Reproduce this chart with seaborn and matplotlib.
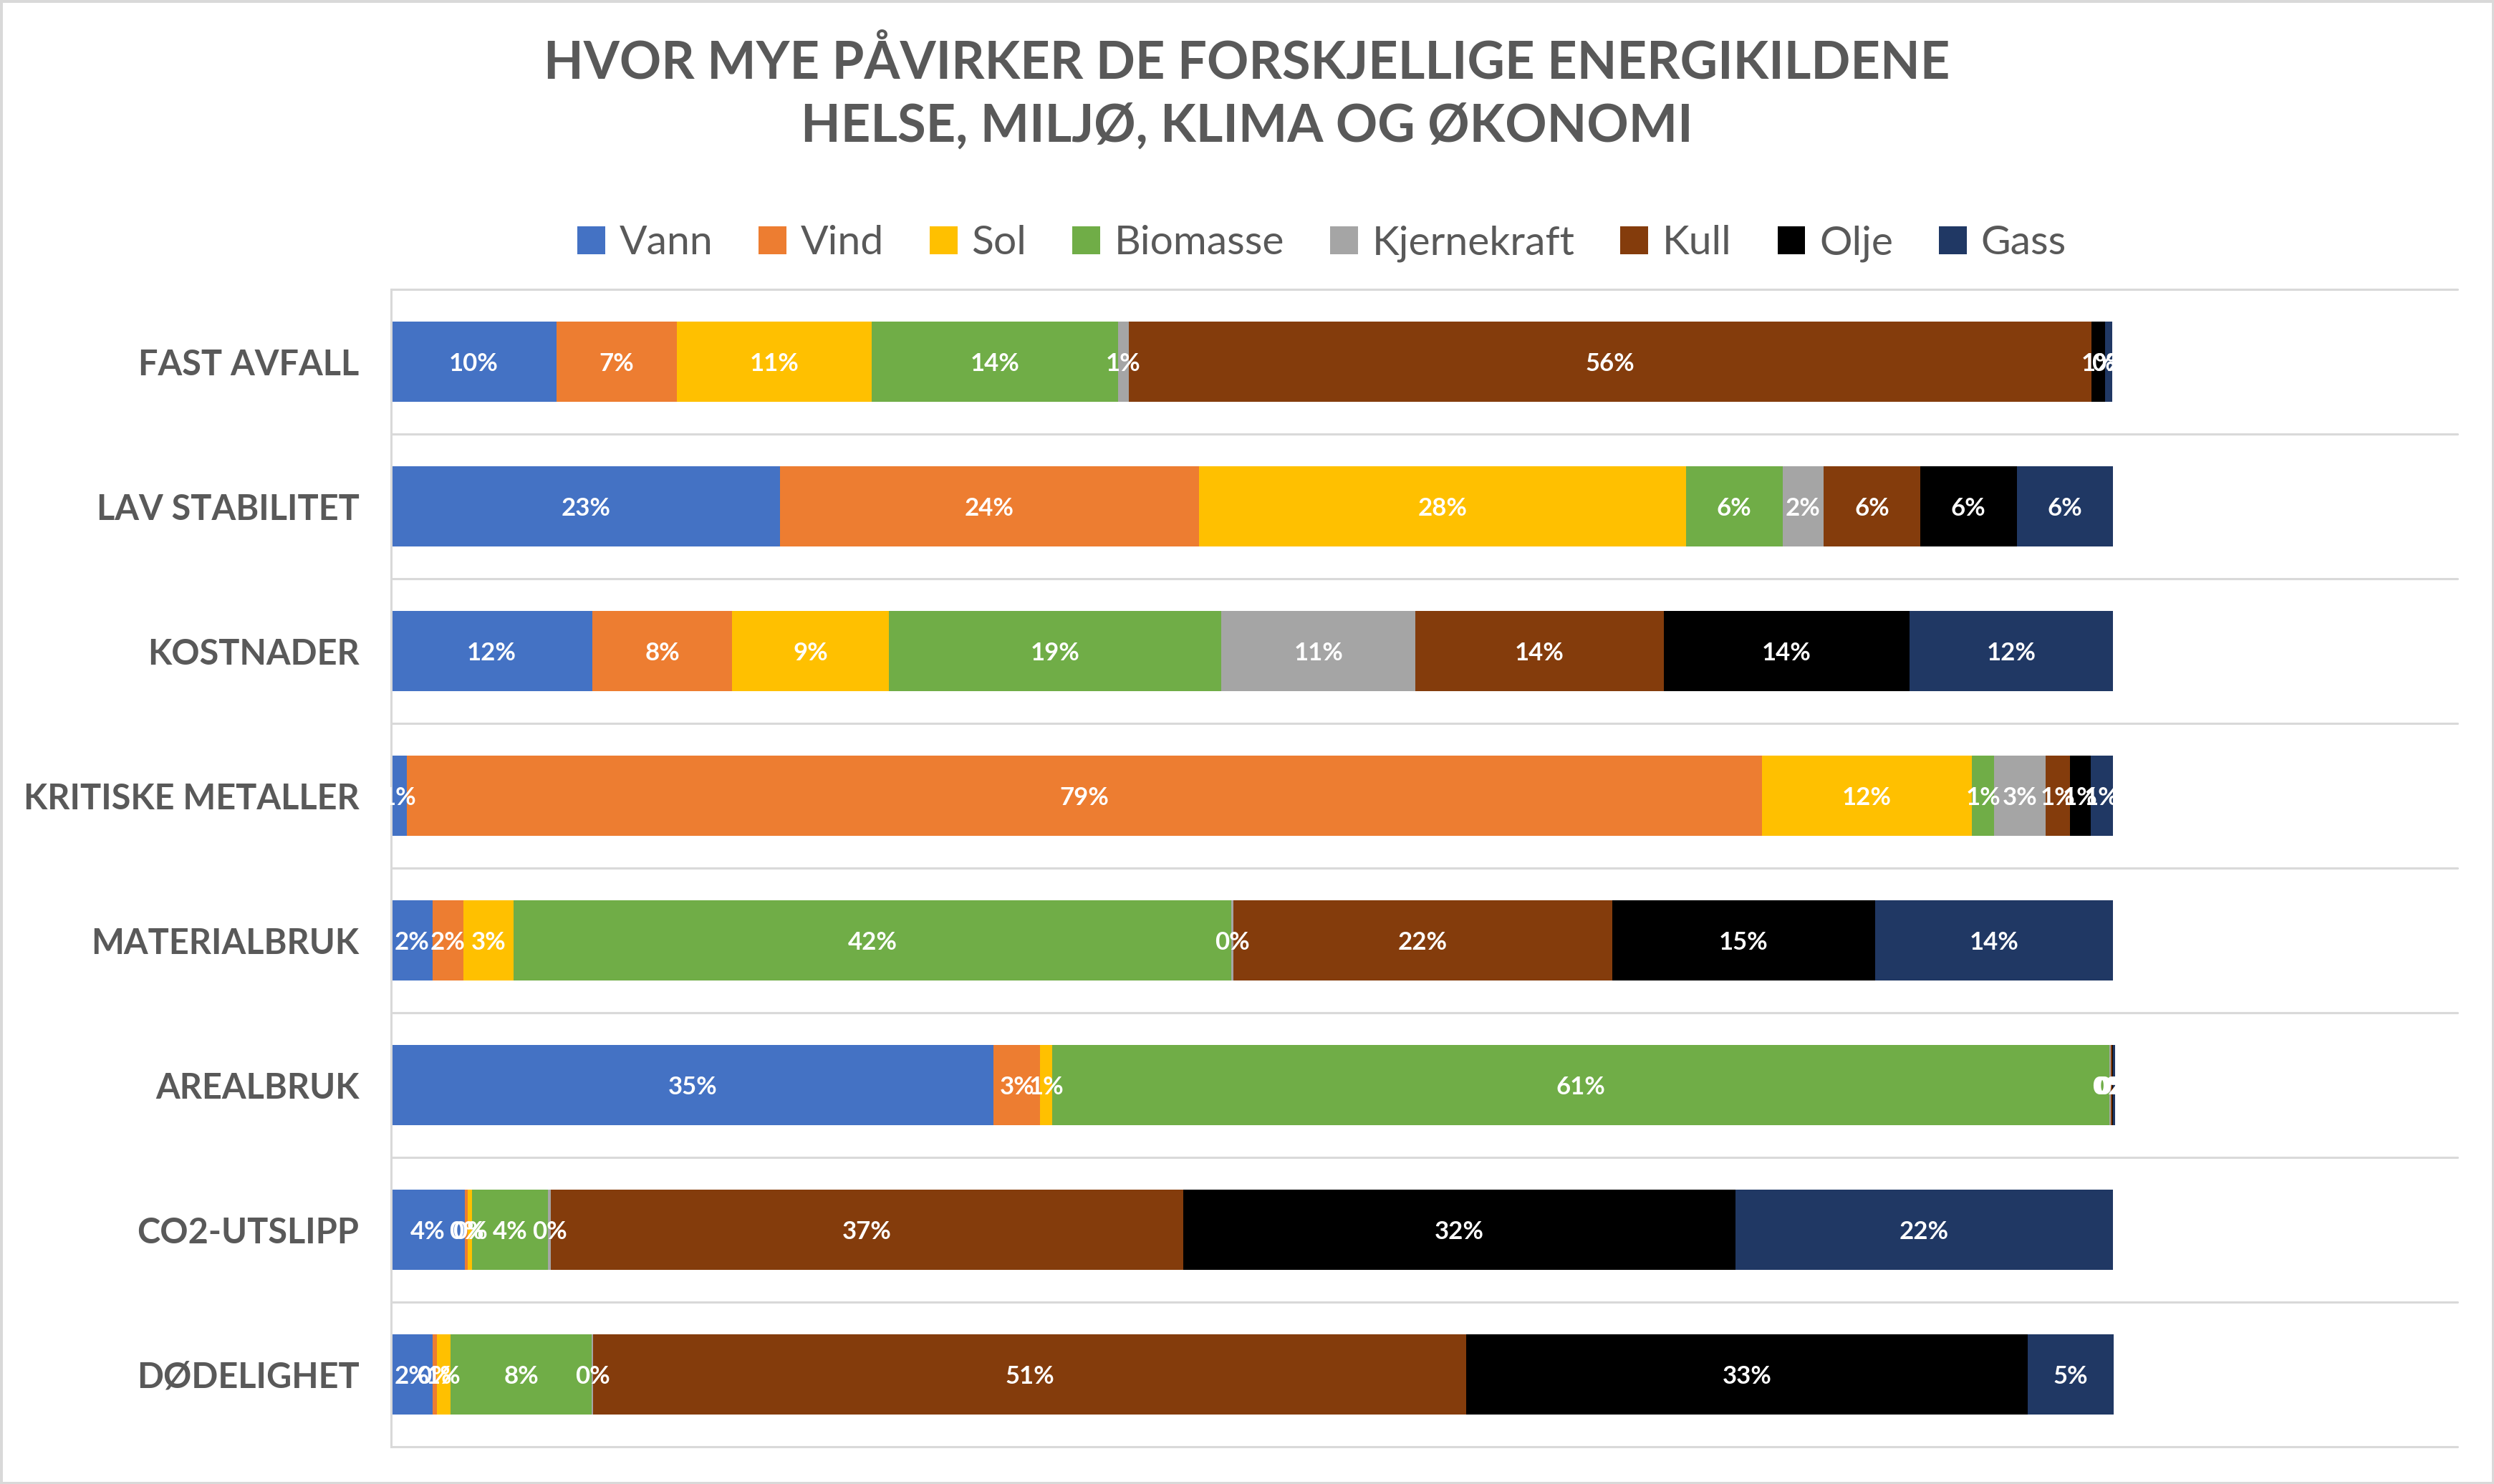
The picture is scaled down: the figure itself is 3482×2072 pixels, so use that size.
import numpy as np
import matplotlib
matplotlib.use("Agg")
import matplotlib.pyplot as plt
from matplotlib.patches import Patch
import seaborn as sns

# Data (share in % per criterion)
categories = ["FAST AVFALL", "LAV STABILITET", "KOSTNADER", "KRITISKE METALLER",
              "MATERIALBRUK", "AREALBRUK", "CO2-UTSLIPP", "DØDELIGHET"]
sources = ["Vann", "Vind", "Sol", "Biomasse", "Kjernekraft", "Kull", "Olje", "Gass"]

vann = [9.6, 22.6, 11.7, 0.9, 2.4, 35.0, 4.3, 2.4]
vind = [7.0, 24.3, 8.1, 78.7, 1.8, 2.7, 0.17, 0.25]
sol = [11.3, 28.3, 9.1, 12.2, 2.9, 0.7, 0.25, 0.8]
biomasse = [14.3, 5.6, 19.3, 1.3, 41.7, 61.4, 4.4, 8.2]
kjernekraft = [0.65, 2.4, 11.3, 3.0, 0.1, 0.05, 0.17, 0.1]
kull = [55.9, 5.6, 14.4, 1.4, 22.0, 0.1, 36.7, 50.7]
olje = [0.8, 5.6, 14.3, 1.2, 15.3, 0.05, 32.1, 32.6]
gass = [0.4, 5.6, 11.8, 1.3, 13.8, 0.1, 21.9, 5.0]

series = [vann, vind, sol, biomasse, kjernekraft, kull, olje, gass]
colors = ["#4472C4", "#ED7D31", "#FFC000", "#70AD47", "#A5A5A5", "#843C0C", "#000000", "#203864"]

grey_txt = "#595959"
grid_col = "#D9D9D9"

sns.set_theme(style="white")
plt.rcParams["font.family"] = ["Lato", "DejaVu Sans"]

fig = plt.figure(figsize=(17.41, 10.36), dpi=200)
fig.patch.set_facecolor("white")
fig.patch.set_edgecolor(grid_col)
fig.patch.set_linewidth(2.5)

ax = fig.add_axes([546 / 3482, 1 - 2020 / 2072, (3431 - 546) / 3482, (2020 - 404) / 2072])

# stacked horizontal bars, one seaborn call per energy source
left = np.zeros(len(categories))
for name, vals, col in zip(sources, series, colors):
    vals = np.array(vals)
    sns.barplot(x=vals, y=categories, order=categories, color=col, saturation=1,
                errorbar=None, width=0.55, left=left, linewidth=0, ax=ax)
    cont = ax.containers[-1]
    txts = ax.bar_label(cont, labels=[f"{v:.0f}%" for v in vals], label_type="center",
                        color="white", fontweight="bold", fontsize=12.5)
    for t in txts:
        t.set_va("center_baseline")
    left = left + vals

ax.set_xlim(0, 120)
ax.set_ylim(len(categories) - 0.5, -0.5)
ax.set_xlabel("")
ax.set_ylabel("")
ax.set_xticks([])

for y in np.arange(-0.5, len(categories)):
    ax.axhline(y, color=grid_col, linewidth=1.1, zorder=0, clip_on=False)

for s in ["top", "right", "bottom"]:
    ax.spines[s].set_visible(False)
ax.spines["left"].set_color(grid_col)
ax.spines["left"].set_linewidth(1.1)

ax.tick_params(axis="y", length=0, pad=16)
for lbl in ax.get_yticklabels():
    lbl.set_fontweight("bold")
    lbl.set_fontsize(17.5)
    lbl.set_color(grey_txt)

# title
fig.text(0.5, 1 - 109 / 2072, "HVOR MYE PÅVIRKER DE FORSKJELLIGE ENERGIKILDENE",
         ha="center", va="baseline", fontsize=26, fontweight="bold", color=grey_txt)
fig.text(0.5, 1 - 198 / 2072, "HELSE, MILJØ, KLIMA OG ØKONOMI",
         ha="center", va="baseline", fontsize=26, fontweight="bold", color=grey_txt)

# legend
handles = [Patch(facecolor=c, edgecolor="none") for c in colors]
fig.legend(handles, sources, loc="center", bbox_to_anchor=(0.530, 1 - 340 / 2072),
           ncol=8, frameon=False, fontsize=20.5, handlelength=0.68, handleheight=0.68,
           handletextpad=0.35, columnspacing=1.12, labelcolor=grey_txt)

fig.savefig("out.png", dpi=200, facecolor="white", edgecolor=grid_col)
